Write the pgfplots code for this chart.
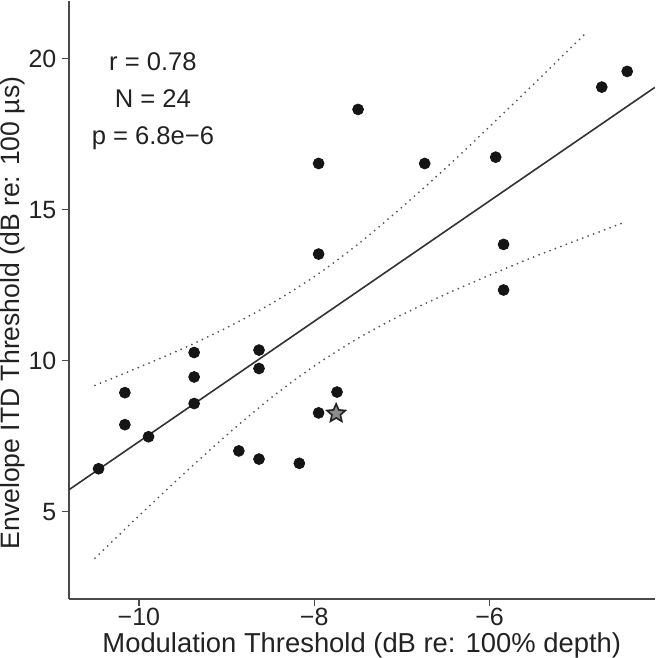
\documentclass[border=0pt]{standalone}
\usepackage{fontspec}
\setmainfont{Liberation Sans}
\usepackage{pgfplots}
\pgfplotsset{compat=1.18}

\definecolor{ink}{HTML}{222222}
\definecolor{axisgray}{HTML}{4A4A4A}
\definecolor{dotcol}{HTML}{151515}
\definecolor{fitcol}{HTML}{333333}
\definecolor{bandcol}{HTML}{555555}
\definecolor{starfill}{HTML}{8C8C8C}

% filled five-point star for the highlighted listener
\pgfdeclareplotmark{fivestar}{%
  \pgfpathmoveto{\pgfpointpolar{90}{\pgfplotmarksize}}%
  \pgfpathlineto{\pgfpointpolar{126}{0.46\pgfplotmarksize}}%
  \pgfpathlineto{\pgfpointpolar{162}{\pgfplotmarksize}}%
  \pgfpathlineto{\pgfpointpolar{198}{0.46\pgfplotmarksize}}%
  \pgfpathlineto{\pgfpointpolar{234}{\pgfplotmarksize}}%
  \pgfpathlineto{\pgfpointpolar{270}{0.46\pgfplotmarksize}}%
  \pgfpathlineto{\pgfpointpolar{306}{\pgfplotmarksize}}%
  \pgfpathlineto{\pgfpointpolar{342}{0.46\pgfplotmarksize}}%
  \pgfpathlineto{\pgfpointpolar{18}{\pgfplotmarksize}}%
  \pgfpathlineto{\pgfpointpolar{54}{0.46\pgfplotmarksize}}%
  \pgfpathclose
  \pgfusepathqfillstroke}

\begin{document}
\begin{tikzpicture}
\begin{axis}[
  scale only axis,
  width=291pt, height=297pt,
  xmin=-10.80, xmax=-4.115,
  ymin=2.11, ymax=21.92,
  axis x line*=bottom, axis y line*=left,
  axis line style={-, color=axisgray, line width=0.75pt},
  xtick={-10,-8,-6}, xticklabels={−10,−8,−6},
  ytick={5,10,15,20}, yticklabels={5,10,15,20},
  tick align=outside, major tick length=3.5pt,
  tick style={color=axisgray, line width=0.7pt},
  ticklabel style={font=\fontsize{12.4}{14}\selectfont, text=ink, inner sep=2.5pt},
  xticklabel style={inner ysep=1pt},
  label style={font=\fontsize{13.6}{15}\selectfont, text=ink, inner sep=0pt},
  xlabel={Modulation Threshold (dB re: 100\% depth)},
  ylabel={Envelope ITD Threshold (dB re: 100 µs)},
  ylabel style={at={(axis description cs:-0.0962,0.478)}, anchor=center,
                font=\fontsize{13.2}{15}\selectfont},
  xlabel style={yshift=-2pt},
  clip=true,
]
% regression line
\addplot[fitcol, line width=0.8pt] coordinates {(-10.80,5.72) (-4.115,19.05)};
% confidence band, upper and lower
\addplot[bandcol, line width=1pt, line cap=round, dash pattern=on 0pt off 2.9pt, smooth] coordinates {
  (-10.50,9.18) (-10.00,9.78) (-9.50,10.40) (-9.00,11.09) (-8.50,11.87) (-8.00,12.78)
  (-7.50,13.86) (-7.00,15.08) (-6.50,16.38) (-6.00,17.75) (-5.50,19.15) (-5.00,20.57) (-4.92,20.80)
};
\addplot[bandcol, line width=1pt, line cap=round, dash pattern=on 0pt off 2.9pt, smooth] coordinates {
  (-10.50,3.46) (-10.00,4.86) (-9.50,6.22) (-9.00,7.53) (-8.50,8.75) (-8.00,9.82)
  (-7.50,10.74) (-7.00,11.52) (-6.50,12.20) (-6.00,12.83) (-5.50,13.43) (-5.00,13.99) (-4.49,14.55)
};
% listeners
\addplot[only marks, mark=*, mark size=2.7pt, mark options={fill=dotcol, draw=dotcol}] coordinates {
  (-10.46,6.42) (-10.16,8.94) (-10.16,7.88) (-9.89,7.48)
  (-9.37,10.27) (-9.37,9.46) (-9.37,8.58)
  (-8.63,10.35) (-8.63,9.74) (-8.86,7.01) (-8.63,6.74) (-8.17,6.60)
  (-7.95,8.27) (-7.74,8.96)
  (-7.50,18.32) (-7.95,16.53) (-6.74,16.53) (-5.93,16.74)
  (-4.72,19.06) (-4.43,19.58) (-7.95,13.53) (-5.84,13.85) (-5.84,12.34)
};
\addplot[only marks, mark=fivestar, mark size=4.8pt, mark options={fill=starfill, draw=ink, line width=0.8pt}] coordinates {
  (-7.75,8.25)
};
\node[font=\fontsize{12.7}{14}\selectfont, text=ink] at (axis cs:-9.84,19.90) {r = 0.78};
\node[font=\fontsize{12.7}{14}\selectfont, text=ink] at (axis cs:-9.84,18.67) {N = 24};
\node[font=\fontsize{12.7}{14}\selectfont, text=ink] at (axis cs:-9.84,17.38) {p = 6.8e−6};
\end{axis}
\end{tikzpicture}
\end{document}
